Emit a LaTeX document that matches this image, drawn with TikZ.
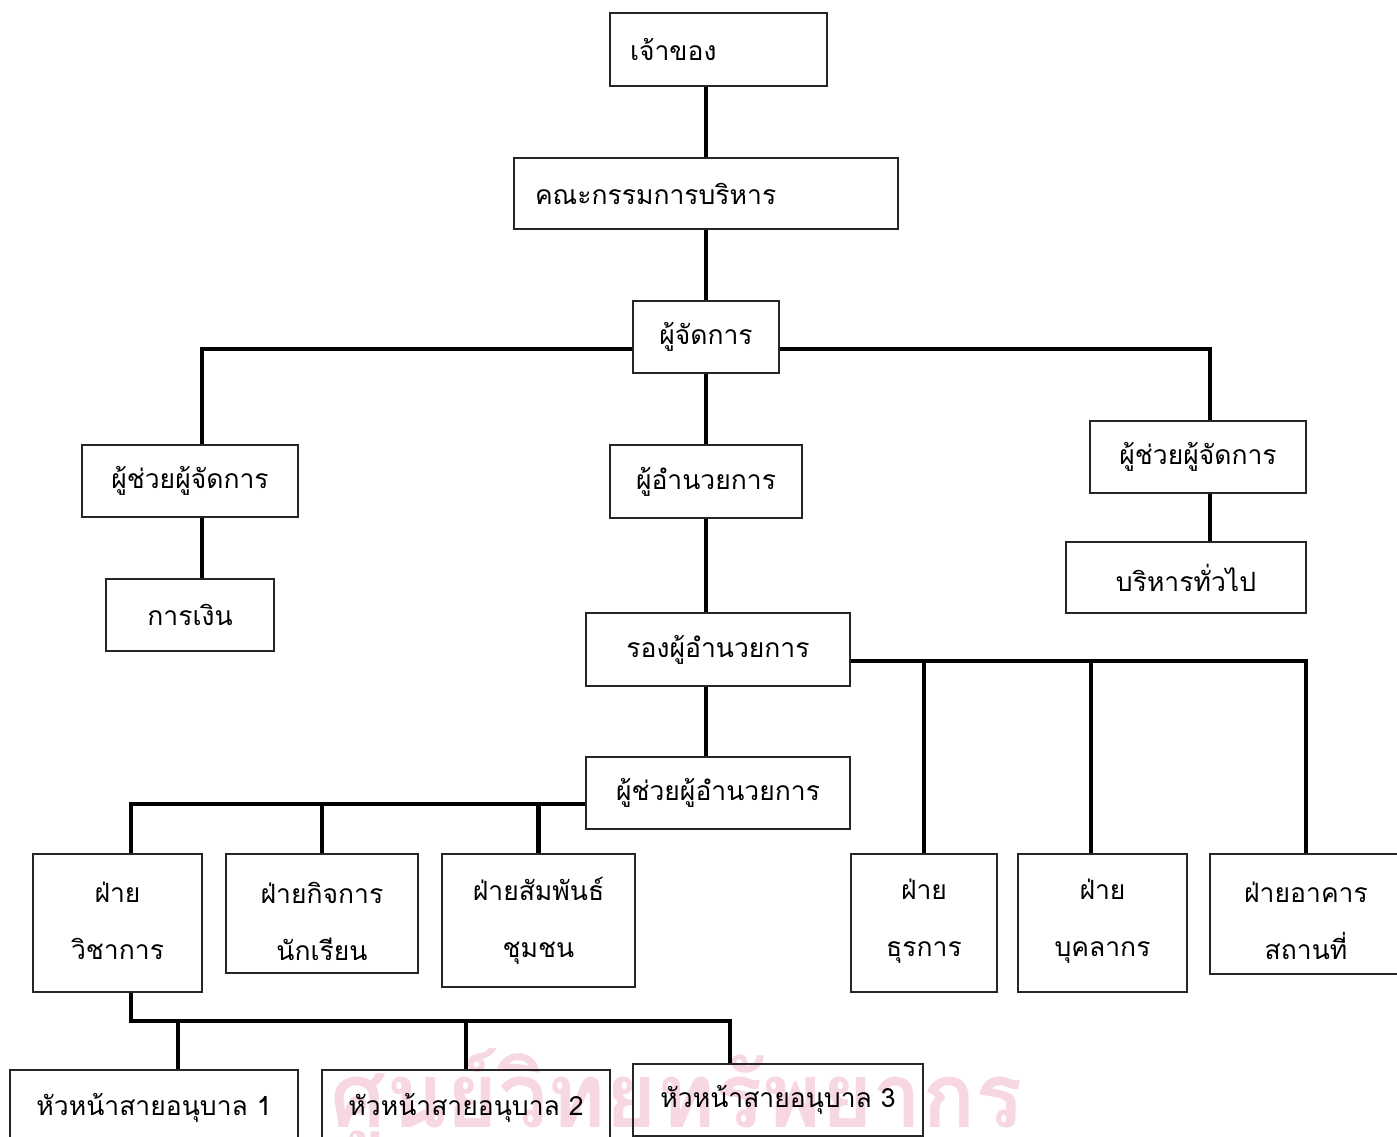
\documentclass[tikz,border=0pt]{standalone}
\usepackage{fontspec}
\usepackage{graphicx}
\newfontfamily\thaifont[Script=Thai]{Loma}
\newcommand\tfont{\thaifont\fontsize{26.5}{57}\selectfont}
\newcommand\wmfont{\thaifont\bfseries\fontsize{90}{100}\selectfont}
\definecolor{wmpink}{RGB}{248,216,224}
\begin{document}
\begin{tikzpicture}[x=1pt,y=-1pt,
  box/.style={draw=black!85, line width=1.6pt, inner sep=0pt, font=\tfont, align=center},
  lbl/.style={inner sep=0pt, font=\tfont, align=center},
  conn/.style={line width=4.6pt},
  wm/.style={inner sep=0pt, text=wmpink, font=\wmfont}]
\useasboundingbox (0,0) rectangle (1397,1137);
% watermark
\node[wm, anchor=base west] (wm) at (330,1127) {\scalebox{0.98}[1]{ศูนย์วิทยทรัพยากร}};
% boxes
\node[box, minimum width=217pt, minimum height=73pt, text width=177pt, align=left] (owner) at (718.5,49.5) {เจ้าของ};
\node[box, minimum width=384pt, minimum height=71pt, text width=342pt, align=left] (board) at (706,193.5) {คณะกรรมการบริหาร};
\node[box, minimum width=146pt, minimum height=72pt] (manager) at (706,337) {ผู้จัดการ};
\node[box, minimum width=216pt, minimum height=72pt] (LA) at (190,481) {ผู้ช่วยผู้จัดการ};
\node[box, minimum width=168pt, minimum height=72pt] (fin) at (190,615) {การเงิน};
\node[box, minimum width=192pt, minimum height=73pt] (director) at (706,481.5) {ผู้อำนวยการ};
\node[box, minimum width=216pt, minimum height=72pt] (RA) at (1198,457) {ผู้ช่วยผู้จัดการ};
\node[box, minimum width=240pt, minimum height=71pt] (ga) at (1186,577.5) {บริหารทั่วไป};
\node[box, minimum width=264pt, minimum height=73pt] (deputy) at (718,649.5) {รองผู้อำนวยการ};
\node[box, minimum width=264pt, minimum height=72pt] (asstdir) at (718,793) {ผู้ช่วยผู้อำนวยการ};
\node[box, minimum width=169pt, minimum height=138pt] (acad) at (117.5,923) {};
\node[box, minimum width=192pt, minimum height=119pt] (stud) at (322,913.5) {};
\node[box, minimum width=193pt, minimum height=133pt] (comm) at (538.5,920.5) {};
\node[box, minimum width=146pt, minimum height=138pt] (thu) at (924,923) {};
\node[box, minimum width=169pt, minimum height=138pt] (pers) at (1102.5,923) {};
\node[box, minimum width=192pt, minimum height=120pt] (build) at (1306,914) {};
\node[lbl] (acadt) at (117.5,921) {ฝ่าย\\วิชาการ};
\node[lbl] (studt) at (322,921) {ฝ่ายกิจการ\\นักเรียน};
\node[lbl] (commt) at (538.5,921) {ฝ่ายสัมพันธ์\\ชุมชน};
\node[lbl] (thut) at (924,921) {ฝ่าย\\ธุรการ};
\node[lbl] (perst) at (1102.5,921) {ฝ่าย\\บุคลากร};
\node[lbl] (buildt) at (1306,921) {ฝ่ายอาคาร\\สถานที่};
\node[box, minimum width=288pt, minimum height=76pt] (k1) at (154,1108) {หัวหน้าสายอนุบาล 1};
\node[box, minimum width=288pt, minimum height=76pt] (k2) at (466,1108) {หัวหน้าสายอนุบาล 2};
\node[box, minimum width=290pt, minimum height=72pt] (k3) at (778,1100) {หัวหน้าสายอนุบาล 3};
% connector coordinates
\coordinate (hl) at (202,349);
\coordinate (hr) at (1210,349);
\coordinate (dr) at (1306,661);
\coordinate (pd) at (1091,661);
\coordinate (al) at (131,804);
\coordinate (kl) at (131,1021);
\coordinate (kr) at (730,1021);
\coordinate (k1d) at (178,1021);
% connectors
\draw[conn] (board.north) -- (board.north |- owner.south);
\draw[conn] (board.south) -- (manager.north);
\draw[conn] (manager.west |- hl) -- (hl) -- (hl |- LA.north);
\draw[conn] (manager.east |- hr) -- (hr) -- (hr |- RA.north);
\draw[conn] (hl |- LA.south) -- (hl |- fin.north);
\draw[conn] (hr |- RA.south) -- (hr |- ga.north);
\draw[conn] (manager.south) -- (director.north);
\draw[conn] (director.south) -- (director.south |- deputy.north);
\draw[conn] (director.south |- deputy.south) -- (director.south |- asstdir.north);
\draw[conn] (deputy.east |- dr) -- (dr) -- (dr |- build.north);
\draw[conn] (thu.north |- dr) -- (thu.north);
\draw[conn] (pd) -- (pd |- pers.north);
\draw[conn] (asstdir.west |- al) -- (al) -- (al |- acad.north);
\draw[conn] (stud.north |- al) -- (stud.north);
\draw[conn] (comm.north |- al) -- (comm.north);
\draw[conn] (kl |- acad.south) -- (kl) -- (kr) -- (kr |- k3.north);
\draw[conn] (k1d) -- (k1d |- k1.north);
\draw[conn] (k2.north |- kl) -- (k2.north);
\end{tikzpicture}
\end{document}
